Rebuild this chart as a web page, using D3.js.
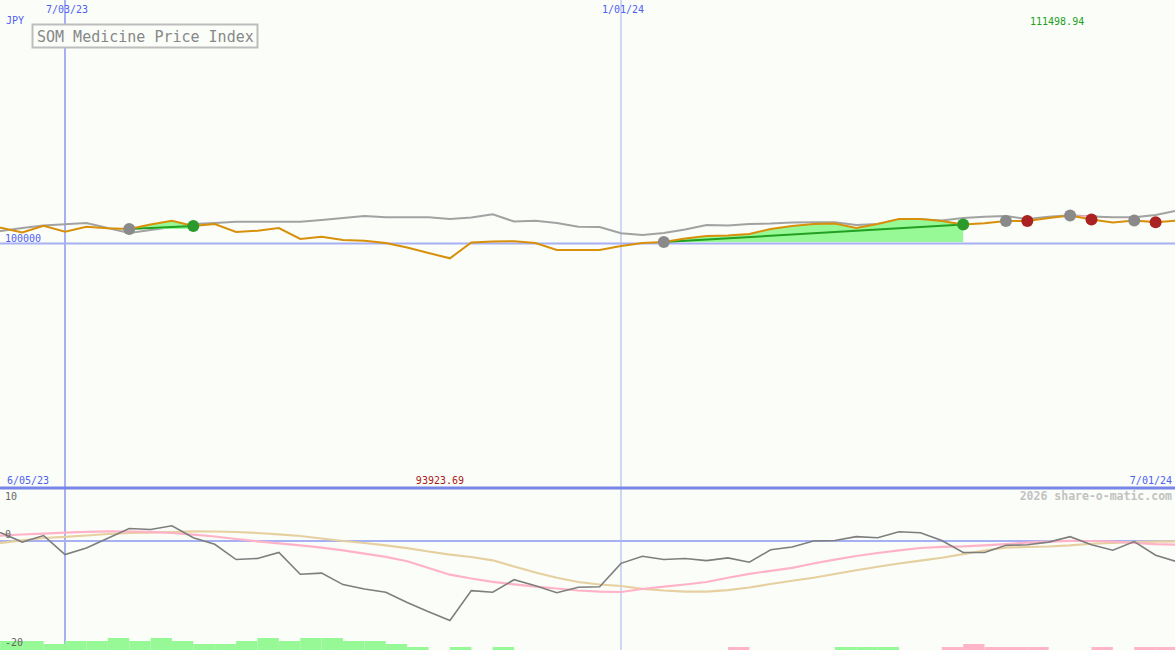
<!DOCTYPE html>
<html><head><meta charset="utf-8">
<script src="https://cdn.jsdelivr.net/npm/d3@7"></script>
<style>
html,body{margin:0;padding:0;background:#fafdf8;overflow:hidden}
svg{display:block}
text{font-family:"DejaVu Sans Mono","Liberation Mono",monospace}
</style>
</head><body>
<svg id="c" width="1175" height="650"></svg>
<script>
// ---- data (weekly) ----
const dates = ["2023-06-05","2023-06-12","2023-06-19","2023-06-26","2023-07-03","2023-07-10","2023-07-17","2023-07-24","2023-07-31",
"2023-08-07","2023-08-14","2023-08-21","2023-08-28","2023-09-04","2023-09-11","2023-09-18","2023-09-25","2023-10-02","2023-10-09",
"2023-10-16","2023-10-23","2023-10-30","2023-11-06","2023-11-13","2023-11-20","2023-11-27","2023-12-04","2023-12-11","2023-12-18",
"2023-12-25","2024-01-01","2024-01-08","2024-01-15","2024-01-22","2024-01-29","2024-02-05","2024-02-12","2024-02-19","2024-02-26",
"2024-03-04","2024-03-11","2024-03-18","2024-03-25","2024-04-01","2024-04-08","2024-04-15","2024-04-22","2024-04-29","2024-05-06",
"2024-05-13","2024-05-20","2024-05-27","2024-06-03","2024-06-10","2024-06-17","2024-06-24","2024-07-01"];
const price = [107187,106489,104517,107310,104846,106899,106242,105955,107803,109364,107187,108008,104723,105257,106366,101848,
102793,101437,101150,100205,98357,96099,93923.69,100411,100821,100903,100205,97331,97331,97331,98973,100205,100616,102053,103080,
103285,103901,105955,107187,108008,108214,106366,108008,110062,110062,109240,107803,108296,109240,109240,110472,111498.94,109856,
108624,109446,108706,109446];
const benchmark = [105544,105134,106366,107392,107885,108419,106366,104312,105544,106776,108008,108419,108953,108953,108953,108953,
109651,110472,111294,110760,110760,110760,110062,110678,111992,109035,109364,108419,106899,106776,104189,103491,104312,105750,107598,
107392,108008,108214,108624,108706,108706,107598,108008,109856,109938,109446,110472,111006,111294,110062,111006,111581,111088,
110760,110760,111704,113470];
const oscillator = [2.0,1.5,-0.2,1.0,-2.5,-1.3,0.5,2.3,2.1,2.8,0.6,-0.6,-3.4,-3.2,-2.1,-6.1,-5.9,-8.0,-8.8,-9.4,-11.3,-13.0,-14.6,
-9.1,-9.4,-7.1,-8.2,-9.5,-8.5,-8.4,-4.1,-2.8,-3.4,-3.2,-3.6,-3.1,-3.9,-1.6,-1.1,0.0,0.1,0.8,0.6,1.7,1.5,0.1,-2.1,-2.1,-0.8,-0.7,
-0.2,0.8,-0.7,-1.7,-0.1,-2.6,-3.8];
const signalFast = [0.83,0.97,1.19,1.36,1.52,1.69,1.76,1.74,1.67,1.47,1.16,0.83,0.37,-0.06,-0.44,-0.81,-1.23,-1.72,-2.33,-2.92,
-3.71,-4.95,-6.18,-6.88,-7.49,-7.96,-8.37,-8.72,-9.08,-9.28,-9.36,-8.81,-8.37,-7.98,-7.52,-6.75,-6.02,-5.47,-4.92,-4.13,-3.41,
-2.75,-2.20,-1.71,-1.28,-1.06,-0.99,-0.81,-0.57,-0.29,-0.11,0.04,0.0,-0.09,-0.37,-0.57,-0.68];
const signalSlow = [-0.73,-0.33,0.13,0.55,0.77,1.01,1.28,1.47,1.54,1.65,1.76,1.74,1.65,1.47,1.23,0.92,0.46,0.0,-0.37,-0.79,-1.30,
-1.93,-2.51,-2.94,-3.54,-4.68,-5.78,-6.75,-7.52,-7.98,-8.26,-8.77,-9.08,-9.30,-9.30,-9.01,-8.53,-7.89,-7.30,-6.75,-6.06,-5.36,
-4.72,-4.13,-3.61,-3.08,-2.42,-1.74,-1.23,-1.08,-1.01,-0.81,-0.50,-0.33,-0.22,-0.11,-0.06];
const histogram = [3,3,3,2,3,3,4,3,4,3,2,2,3,4,3,4,4,3,3,2,1,0,1,0,1,0,0,0,0,0,0,0,0,0,0,-1,0,0,0,0,1,1,1,0,0,-1,-2,-1,-1,-1,0,0,-1,0,-1,-1];
const longTrades = [[7,10],[32,46]];
const shortTrades = [[48,49],[51,52],[54,55]];
const dateTicks = ["2023-07-03","2024-01-01"];
const dateTickLabels = ["7/03/23","1/01/24"];
const refPrice = 100000;
const oscTicks = [10,0,-20];
const title = "SOM Medicine Price Index";
const currency = "JPY";
const copyright = "2026 share-o-matic.com";

// ---- setup ----
const W = 1175, H = 650;
const parse = d3.utcParse("%Y-%m-%d");
const D = dates.map(parse);
const svg = d3.select("#c");
const bg = "#fafdf8";
const blue = "#4f5ff0";
const gridBlue = "#a6b0f2";

const x = d3.scaleUtc().domain([D[0], D[D.length-1]]).range([-20.5, 1177]);
const yP = d3.scaleLinear().domain([0, 200000]).range([487, 0]);
const yO = d3.scaleLinear().domain([-20, 10]).range([650, 486.5]);
const hH = d3.scaleLinear().domain([0, 4]).range([0, 12]);

svg.append("rect").attr("width", W).attr("height", H).attr("fill", bg);

// vertical date grid lines
dateTicks.forEach((t, k) => {
  const xx = Math.round(x(parse(t)));
  svg.append("line").attr("x1", xx).attr("x2", xx).attr("y1", 0).attr("y2", H)
    .attr("stroke", gridBlue).attr("stroke-width", k === 0 ? 2 : 1);
});

// reference lines
svg.append("line").attr("x1", 0).attr("x2", W).attr("y1", yP(refPrice)).attr("y2", yP(refPrice))
  .attr("stroke", gridBlue).attr("stroke-width", 2);
svg.append("line").attr("x1", 0).attr("x2", W).attr("y1", yO(0)).attr("y2", yO(0))
  .attr("stroke", gridBlue).attr("stroke-width", 2);

// histogram bars (step after)
const hist = svg.append("g");
histogram.forEach((v, i) => {
  if (v === 0) return;
  const x0 = x(D[i]), x1 = x(D[i+1]);
  const h = hH(Math.abs(v));
  hist.append("rect").attr("x", x0).attr("width", x1 - x0).attr("y", H - h).attr("height", h)
    .attr("fill", v > 0 ? "#96f996" : "#ffb4c8");
});

// oscillator lines
const lineO = arr => d3.line().x((d, i) => x(D[i])).y(d => yO(d))(arr);
svg.append("path").attr("d", lineO(signalSlow)).attr("fill", "none").attr("stroke", "#e6d0a0").attr("stroke-width", 2.2);
svg.append("path").attr("d", lineO(signalFast)).attr("fill", "none").attr("stroke", "#ffb2c8").attr("stroke-width", 2.2);
svg.append("path").attr("d", lineO(oscillator)).attr("fill", "none").attr("stroke", "#7e7e7e").attr("stroke-width", 1.6);

// separator
svg.append("line").attr("x1", 0).attr("x2", W).attr("y1", 488).attr("y2", 488)
  .attr("stroke", "#7886e8").attr("stroke-width", 3);

// price panel
const lineP = arr => d3.line().x((d, i) => x(D[i])).y(d => yP(d))(arr);
svg.append("path").attr("d", lineP(benchmark)).attr("fill", "none").attr("stroke", "#a2a2a2").attr("stroke-width", 2);

function tradeArea(a, b, color) {
  const idx = d3.range(a, b + 1);
  const area = d3.area().x(i => x(D[i])).y0(yP(price[a])).y1(i => yP(price[i]));
  svg.append("path").attr("d", area(idx)).attr("fill", color);
}
longTrades.forEach(([a, b]) => tradeArea(a, b, "#96f996"));
shortTrades.forEach(([a, b]) => {
  const idx = d3.range(a, b + 1);
  const area = d3.area().x(i => x(D[i]))
    .y0(i => yP(price[a] + (price[b] - price[a]) * (i - a) / (b - a)))
    .y1(i => yP(Math.max(price[i], price[a])));
  svg.append("path").attr("d", area(idx)).attr("fill", "#ffb4c8");
});
longTrades.forEach(([a, b]) => {
  svg.append("line").attr("x1", x(D[a])).attr("y1", yP(price[a])).attr("x2", x(D[b])).attr("y2", yP(price[b]))
    .attr("stroke", "#22a022").attr("stroke-width", 2);
});

svg.append("path").attr("d", lineP(price)).attr("fill", "none").attr("stroke", "#d8900a").attr("stroke-width", 2);

// markers
const marker = (i, c) => svg.append("circle").attr("cx", x(D[i])).attr("cy", yP(price[i])).attr("r", 6).attr("fill", c);
longTrades.forEach(([a, b]) => { marker(a, "#8a8a8a"); marker(b, "#2a9a2a"); });
shortTrades.forEach(([a, b]) => { marker(a, "#8a8a8a"); marker(b, "#aa2222"); });

// ---- text ----
const txt = (s, xx, yy, opt = {}) => svg.append("text").text(s).attr("x", xx).attr("y", yy)
  .attr("font-size", opt.size || 10).attr("fill", opt.fill || blue)
  .attr("text-anchor", opt.anchor || "start").attr("font-weight", opt.weight || "normal");

dateTicks.forEach((t, k) => txt(dateTickLabels[k], x(parse(t)) + 2, 13, {anchor: "middle"}));
txt(currency, 6, 24);

svg.append("rect").attr("x", 32.5).attr("y", 24.5).attr("width", 225).attr("height", 23)
  .attr("fill", bg).attr("stroke", "#bdbdbd").attr("stroke-width", 2);
txt(title, 37, 41.5, {size: 15, fill: "#888888"});

const maxI = d3.maxIndex(price), minI = d3.minIndex(price);
txt(d3.format(".2f")(price[maxI]), x(D[maxI]) - 13, 25, {anchor: "middle", fill: "#22a022"});
txt(d3.format(".2f")(price[minI]), x(D[minI]) - 10, 484, {anchor: "middle", fill: "#aa2020"});
txt(String(refPrice), 5, 241.5);

const fmt = d3.utcFormat("%-m/%d/%y");
txt(fmt(D[0]), 7, 484);
txt(fmt(D[D.length-1]), 1172, 484, {anchor: "end"});
txt(copyright, 1172, 500, {anchor: "end", size: 11.5, fill: "#c2c2c2", weight: "bold"});

oscTicks.forEach(v => {
  const yy = v === 10 ? 500 : (v === 0 ? yO(0) - 3 : 646);
  txt(String(v), 5, yy, {fill: "#666666"});
});
</script>
</body></html>
